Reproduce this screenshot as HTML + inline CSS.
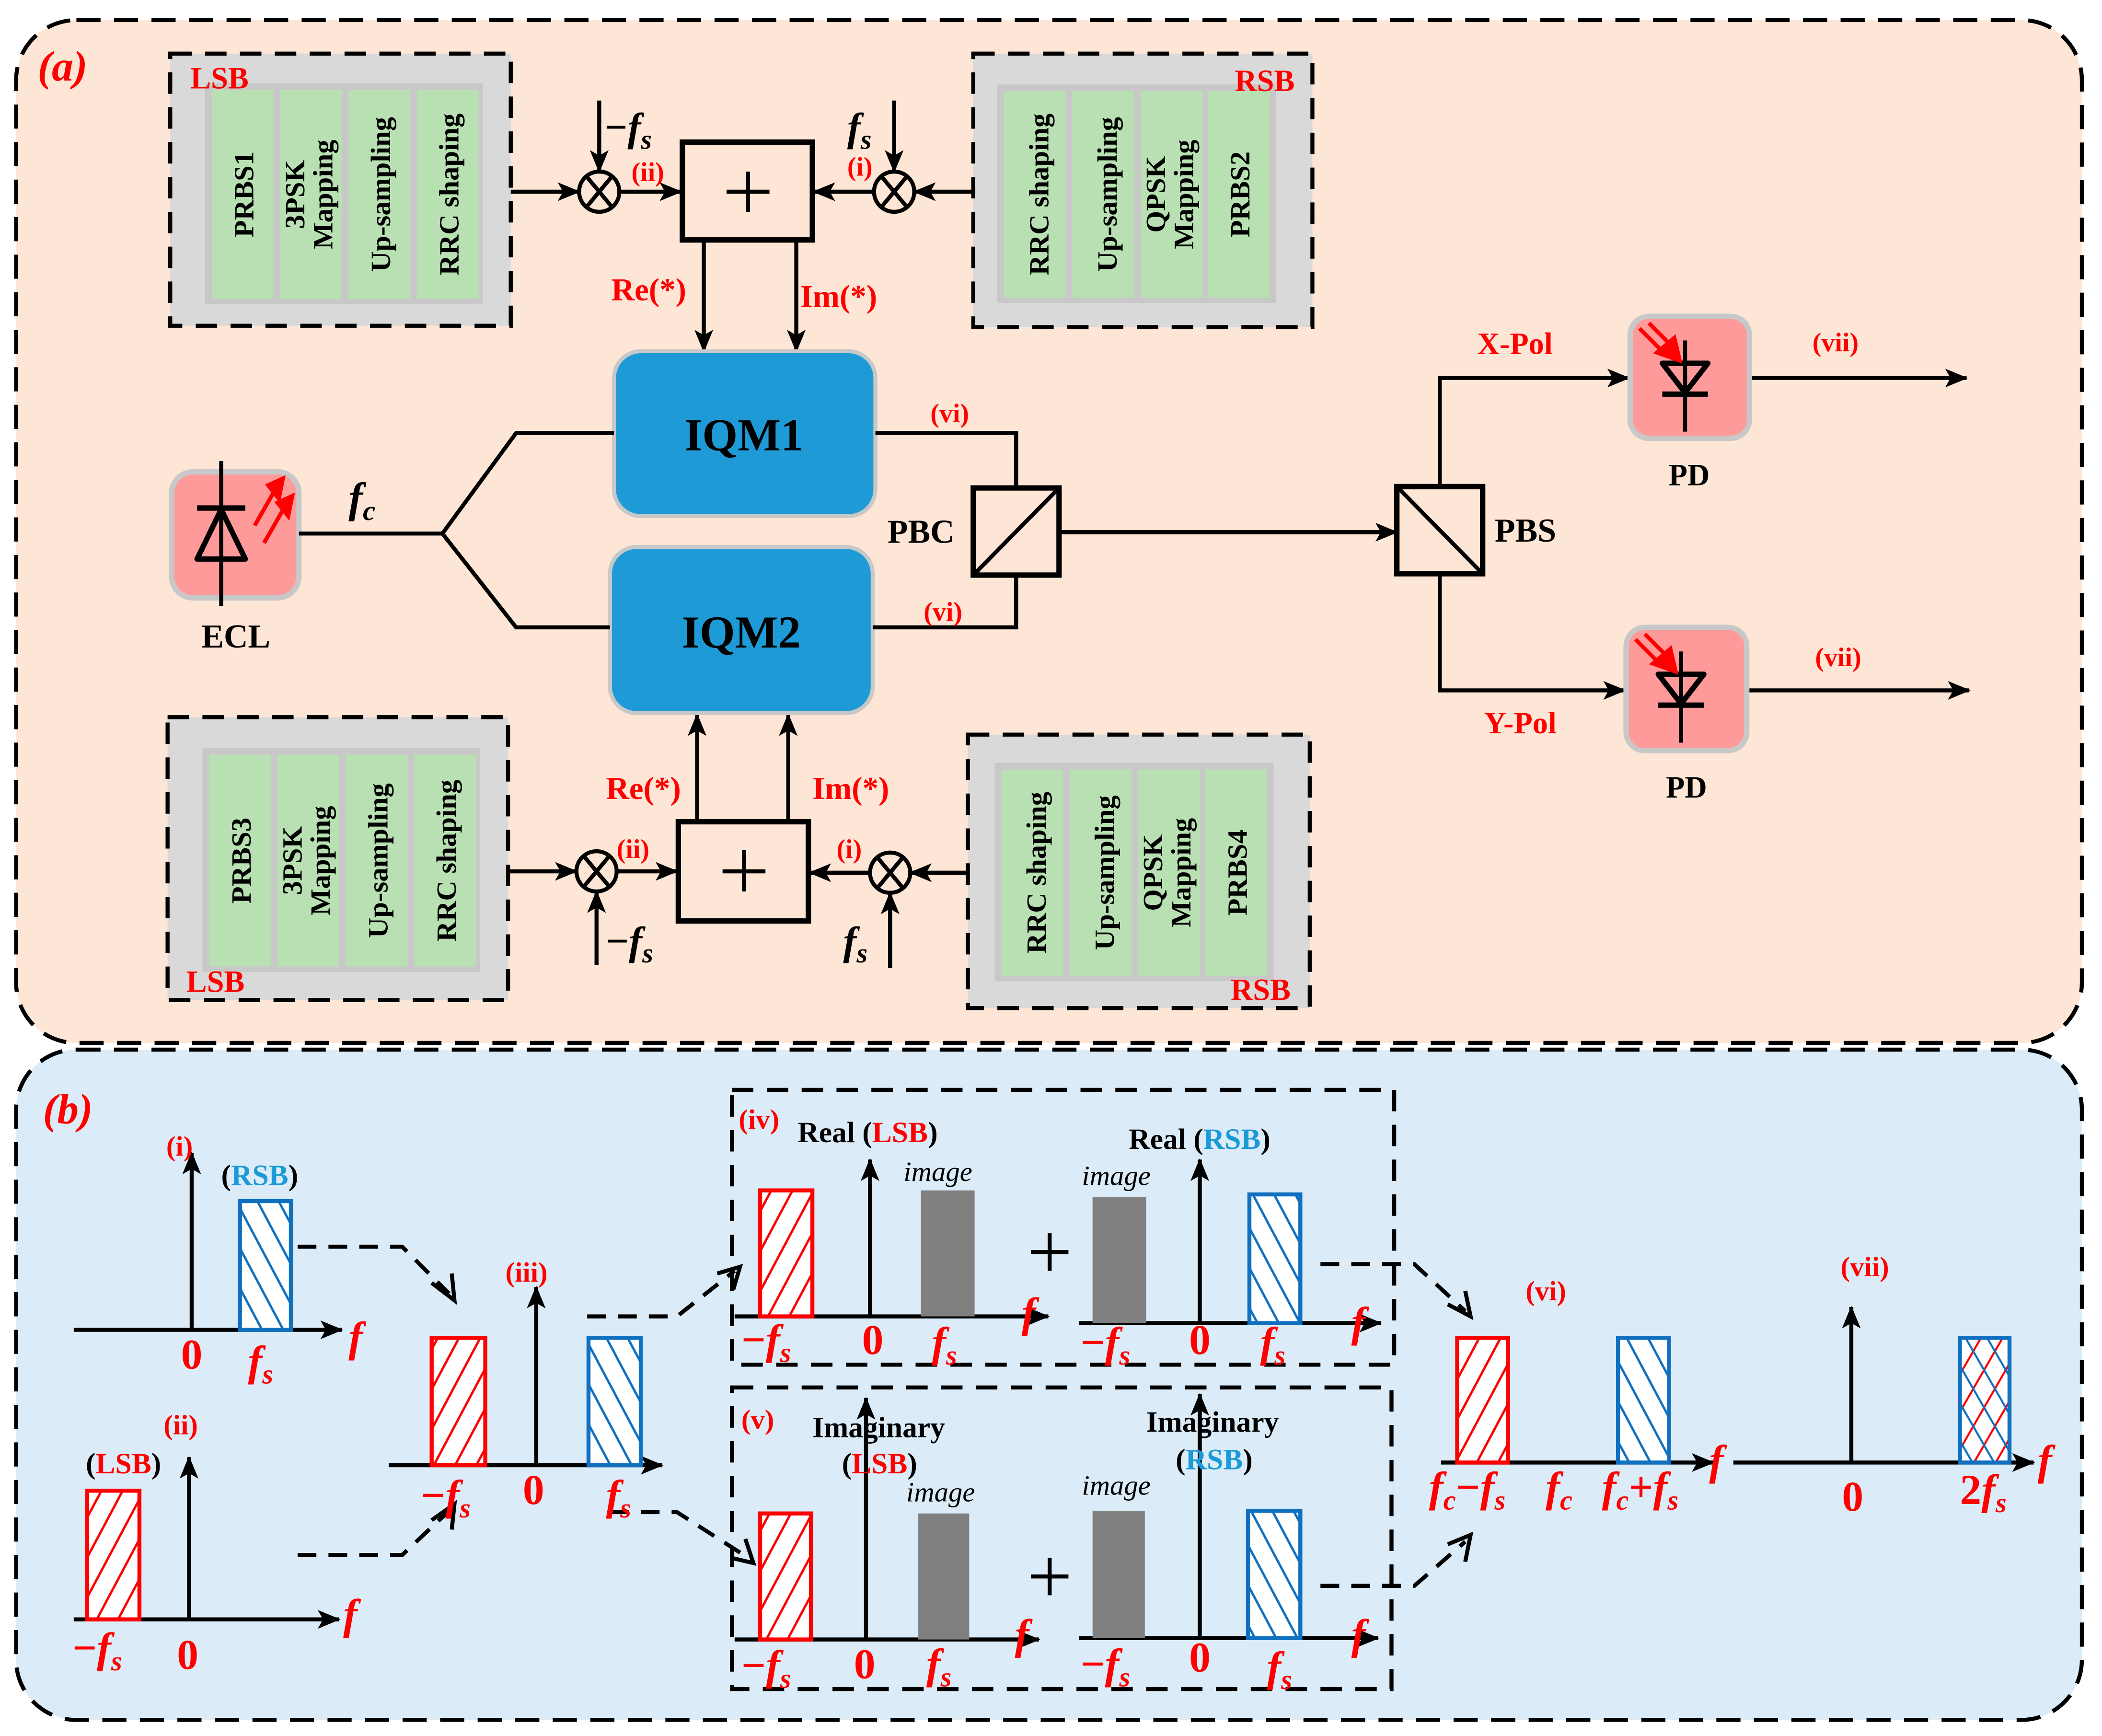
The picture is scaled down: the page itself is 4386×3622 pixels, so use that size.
<!DOCTYPE html>
<html><head><meta charset="utf-8"><style>
html,body{margin:0;padding:0;background:#fff;}
svg{display:block;}
svg text{font-family:"Liberation Serif","Times New Roman",serif;font-weight:bold;}
.r{fill:#ff0000;}
.b{fill:#1a9ad6;}
.it{font-style:italic;}
.col{font-size:21px;fill:#000;}
</style></head><body>
<svg width="4386" height="3622" viewBox="0 0 1568 1295" preserveAspectRatio="none" xmlns="http://www.w3.org/2000/svg" font-family="Liberation Serif, serif" font-weight="bold">
<defs>
<marker id="ah" markerUnits="userSpaceOnUse" markerWidth="18" markerHeight="14" refX="16" refY="7" orient="auto">
<path d="M0,0 L17,7 L0,14 L4,7 z" fill="#000"/></marker>
<pattern id="hr" patternUnits="userSpaceOnUse" width="14" height="14" patternTransform="rotate(28)">
<rect width="14" height="14" fill="#fff"/><line x1="0" y1="0" x2="0" y2="14" stroke="#ff0000" stroke-width="3.5"/></pattern>
<pattern id="hb" patternUnits="userSpaceOnUse" width="14" height="14" patternTransform="rotate(-28)">
<rect width="14" height="14" fill="#fff"/><line x1="0" y1="0" x2="0" y2="14" stroke="#1070c0" stroke-width="3.5"/></pattern>
<pattern id="hx" patternUnits="userSpaceOnUse" width="14" height="14" patternTransform="rotate(30)">
<rect width="14" height="14" fill="#fff"/><line x1="0" y1="0" x2="0" y2="14" stroke="#ff0000" stroke-width="3"/></pattern>
<pattern id="hx2" patternUnits="userSpaceOnUse" width="14" height="14" patternTransform="rotate(-30)">
<line x1="0" y1="0" x2="0" y2="14" stroke="#1070c0" stroke-width="3"/></pattern>
</defs>

<rect width="1568" height="1295" fill="#fff"/>
<rect x="12" y="15" width="1541" height="763" rx="45" fill="#fee6d6" stroke="#000" stroke-width="3" stroke-dasharray="18,10"/>
<rect x="12" y="783" width="1541" height="500" rx="45" fill="#dbebf7" stroke="#000" stroke-width="3" stroke-dasharray="18,10"/>
<text x="28" y="60" class="r it" font-size="32">(a)</text>
<text x="32" y="838" class="r it" font-size="32">(b)</text>

<g>
<rect x="127" y="40" width="254" height="203" fill="#d9d9d9" stroke="#000" stroke-width="3" stroke-dasharray="16,10"/>
<rect x="153" y="62" width="207" height="165" fill="#c8c8c8"/>
<rect x="158" y="67" width="46" height="156" fill="#b9e0b2"/><rect x="209" y="67" width="46" height="156" fill="#b9e0b2"/>
<rect x="260" y="67" width="46" height="156" fill="#b9e0b2"/><rect x="311" y="67" width="46" height="156" fill="#b9e0b2"/>
<text class="col" transform="translate(189,145) rotate(-90)" text-anchor="middle">PRBS1</text>
<text class="col" transform="translate(227,145) rotate(-90)" text-anchor="middle">3PSK</text>
<text class="col" transform="translate(248,145) rotate(-90)" text-anchor="middle">Mapping</text>
<text class="col" transform="translate(291,145) rotate(-90)" text-anchor="middle">Up-sampling</text>
<text class="col" transform="translate(342,145) rotate(-90)" text-anchor="middle">RRC shaping</text>
<text x="142" y="66" class="r" font-size="23">LSB</text>
</g>
<g>
<rect x="726" y="40" width="253" height="204" fill="#d9d9d9" stroke="#000" stroke-width="3" stroke-dasharray="16,10"/>
<rect x="744" y="63" width="208" height="163" fill="#c8c8c8"/>
<rect x="749" y="68" width="46" height="154" fill="#b9e0b2"/><rect x="800" y="68" width="46" height="154" fill="#b9e0b2"/>
<rect x="851" y="68" width="46" height="154" fill="#b9e0b2"/><rect x="901" y="68" width="46" height="154" fill="#b9e0b2"/>
<text class="col" transform="translate(782,145) rotate(-90)" text-anchor="middle">RRC shaping</text>
<text class="col" transform="translate(833,145) rotate(-90)" text-anchor="middle">Up-sampling</text>
<text class="col" transform="translate(869,145) rotate(-90)" text-anchor="middle">QPSK</text>
<text class="col" transform="translate(890,145) rotate(-90)" text-anchor="middle">Mapping</text>
<text class="col" transform="translate(932,145) rotate(-90)" text-anchor="middle">PRBS2</text>
<text x="921" y="68" class="r" font-size="23">RSB</text>
</g>
<g>
<rect x="125" y="535" width="254" height="211" fill="#d9d9d9" stroke="#000" stroke-width="3" stroke-dasharray="16,10"/>
<rect x="151" y="558" width="207" height="167" fill="#c8c8c8"/>
<rect x="156" y="563" width="46" height="158" fill="#b9e0b2"/><rect x="207" y="563" width="46" height="158" fill="#b9e0b2"/>
<rect x="258" y="563" width="46" height="158" fill="#b9e0b2"/><rect x="309" y="563" width="46" height="158" fill="#b9e0b2"/>
<text class="col" transform="translate(187,642) rotate(-90)" text-anchor="middle">PRBS3</text>
<text class="col" transform="translate(225,642) rotate(-90)" text-anchor="middle">3PSK</text>
<text class="col" transform="translate(246,642) rotate(-90)" text-anchor="middle">Mapping</text>
<text class="col" transform="translate(289,642) rotate(-90)" text-anchor="middle">Up-sampling</text>
<text class="col" transform="translate(340,642) rotate(-90)" text-anchor="middle">RRC shaping</text>
<text x="139" y="740" class="r" font-size="23">LSB</text>
</g>
<g>
<rect x="722" y="548" width="255" height="204" fill="#d9d9d9" stroke="#000" stroke-width="3" stroke-dasharray="16,10"/>
<rect x="742" y="569" width="208" height="163" fill="#c8c8c8"/>
<rect x="747" y="574" width="46" height="154" fill="#b9e0b2"/><rect x="798" y="574" width="46" height="154" fill="#b9e0b2"/>
<rect x="849" y="574" width="46" height="154" fill="#b9e0b2"/><rect x="899" y="574" width="46" height="154" fill="#b9e0b2"/>
<text class="col" transform="translate(780,651) rotate(-90)" text-anchor="middle">RRC shaping</text>
<text class="col" transform="translate(831,651) rotate(-90)" text-anchor="middle">Up-sampling</text>
<text class="col" transform="translate(867,651) rotate(-90)" text-anchor="middle">QPSK</text>
<text class="col" transform="translate(888,651) rotate(-90)" text-anchor="middle">Mapping</text>
<text class="col" transform="translate(930,651) rotate(-90)" text-anchor="middle">PRBS4</text>
<text x="918" y="746" class="r" font-size="23">RSB</text>
</g>

<g stroke="#000" stroke-width="3" fill="none">
<line x1="381" y1="143" x2="432" y2="143" marker-end="url(#ah)"/>
<line x1="462" y1="143" x2="508" y2="143" marker-end="url(#ah)"/>
<line x1="447" y1="75" x2="447" y2="128" marker-end="url(#ah)"/>
<circle cx="447" cy="143" r="15"/><line x1="437" y1="131" x2="457" y2="155"/><line x1="457" y1="131" x2="437" y2="155"/>
<line x1="726" y1="143" x2="682" y2="143" marker-end="url(#ah)"/>
<line x1="652" y1="143" x2="607" y2="143" marker-end="url(#ah)"/>
<line x1="667" y1="75" x2="667" y2="128" marker-end="url(#ah)"/>
<circle cx="667" cy="143" r="15"/><line x1="657" y1="131" x2="677" y2="155"/><line x1="677" y1="131" x2="657" y2="155"/>
<rect x="509" y="106" width="97" height="73" stroke-width="4"/>
<line x1="558" y1="128" x2="558" y2="158"/><line x1="542" y1="143" x2="574" y2="143"/>
<line x1="525" y1="180" x2="525" y2="262" marker-end="url(#ah)"/>
<line x1="594" y1="180" x2="594" y2="262" marker-end="url(#ah)"/>
</g>
<text x="451" y="105" font-size="30">−<tspan class="it">f</tspan><tspan font-size="21" dy="6" class="it">s</tspan></text>
<text x="632" y="105" font-size="30" class="it">f<tspan font-size="21" dy="6">s</tspan></text>
<text x="471" y="135" class="r" font-size="20">(ii)</text>
<text x="632" y="131" class="r" font-size="20">(i)</text>
<text x="456" y="224" class="r" font-size="24">Re(*)</text>
<text x="597" y="229" class="r" font-size="24">Im(*)</text>

<g stroke="#000" stroke-width="3" fill="none">
<line x1="379" y1="650" x2="430" y2="650" marker-end="url(#ah)"/>
<line x1="460" y1="650" x2="505" y2="650" marker-end="url(#ah)"/>
<line x1="445" y1="720" x2="445" y2="665" marker-end="url(#ah)"/>
<circle cx="445" cy="650" r="15"/><line x1="435" y1="638" x2="455" y2="662"/><line x1="455" y1="638" x2="435" y2="662"/>
<line x1="722" y1="651" x2="679" y2="651" marker-end="url(#ah)"/>
<line x1="649" y1="651" x2="604" y2="651" marker-end="url(#ah)"/>
<line x1="664" y1="722" x2="664" y2="666" marker-end="url(#ah)"/>
<circle cx="664" cy="651" r="15"/><line x1="654" y1="639" x2="674" y2="663"/><line x1="674" y1="639" x2="654" y2="663"/>
<rect x="506" y="613" width="97" height="74" stroke-width="4"/>
<line x1="555" y1="634" x2="555" y2="665"/><line x1="539" y1="650" x2="571" y2="650"/>
<line x1="520" y1="612" x2="520" y2="533" marker-end="url(#ah)"/>
<line x1="588" y1="612" x2="588" y2="533" marker-end="url(#ah)"/>
</g>
<text x="452" y="712" font-size="30">−<tspan class="it">f</tspan><tspan font-size="21" dy="6" class="it">s</tspan></text>
<text x="629" y="712" font-size="30" class="it">f<tspan font-size="21" dy="6">s</tspan></text>
<text x="460" y="640" class="r" font-size="20">(ii)</text>
<text x="624" y="640" class="r" font-size="20">(i)</text>
<text x="452" y="596" class="r" font-size="24">Re(*)</text>
<text x="606" y="596" class="r" font-size="24">Im(*)</text>

<rect x="458" y="262" width="195" height="123" rx="20" fill="#1e9ad6" stroke="#c8c8c8" stroke-width="3"/>
<text x="555" y="336" font-size="34" text-anchor="middle">IQM1</text>
<rect x="455" y="408" width="196" height="124" rx="20" fill="#1e9ad6" stroke="#c8c8c8" stroke-width="3"/>
<text x="553" y="483" font-size="34" text-anchor="middle">IQM2</text>

<rect x="128" y="352" width="95" height="94" rx="16" fill="#fe9a9a" stroke="#c8c8c8" stroke-width="4"/>
<g stroke="#000" stroke-width="4" fill="none" stroke-linejoin="round">
<line x1="165" y1="344" x2="165" y2="452" stroke-width="3"/>
<line x1="147" y1="379" x2="183" y2="379"/>
<path d="M165,380 L147,417 L183,417 Z"/>
</g>
<g stroke="#ff0000" stroke-width="3" fill="#ff0000">
<line x1="190" y1="392" x2="206" y2="364"/><path d="M200,362 L211,357 L208,372 Z"/>
<line x1="197" y1="405" x2="213" y2="377"/><path d="M207,375 L218,370 L215,385 Z"/>
</g>
<text x="176" y="483" font-size="25" text-anchor="middle">ECL</text>
<text x="260" y="382" font-size="32" class="it">f<tspan font-size="21" dy="6">c</tspan></text>

<g stroke="#000" stroke-width="3" fill="none">
<polyline points="223,398 330,398 385,323 458,323"/>
<polyline points="330,398 385,468 455,468"/>
<polyline points="653,323 758,323 758,363"/>
<polyline points="651,468 758,468 758,429"/>
<line x1="790" y1="397" x2="1042" y2="397" marker-end="url(#ah)"/>
<rect x="726" y="364" width="64" height="65" stroke-width="4"/>
<line x1="726" y1="429" x2="790" y2="364"/>
<rect x="1042" y="363" width="64" height="65" stroke-width="4"/>
<line x1="1042" y1="363" x2="1106" y2="428"/>
<polyline points="1074,363 1074,282 1215,282" marker-end="url(#ah)"/>
<polyline points="1074,428 1074,515 1212,515" marker-end="url(#ah)"/>
<line x1="1306" y1="282" x2="1467" y2="282" marker-end="url(#ah)"/>
<line x1="1304" y1="515" x2="1469" y2="515" marker-end="url(#ah)"/>
</g>
<text x="662" y="405" font-size="25">PBC</text>
<text x="1115" y="404" font-size="25">PBS</text>
<text x="694" y="315" class="r" font-size="20">(vi)</text>
<text x="689" y="463" class="r" font-size="20">(vi)</text>
<text x="1102" y="264" class="r" font-size="23">X-Pol</text>
<text x="1107" y="547" class="r" font-size="23">Y-Pol</text>
<text x="1352" y="262" class="r" font-size="20">(vii)</text>
<text x="1354" y="497" class="r" font-size="20">(vii)</text>

<g>
<rect x="1216" y="236" width="89" height="91" rx="14" fill="#fe9a9a" stroke="#c8c8c8" stroke-width="4"/>
<g stroke="#000" stroke-width="4" fill="none" stroke-linejoin="round">
<line x1="1257" y1="254" x2="1257" y2="322" stroke-width="3"/>
<path d="M1240,271 L1274,271 L1257,293 Z"/><line x1="1240" y1="294" x2="1274" y2="294"/>
</g>
<g stroke="#ff0000" stroke-width="3" fill="#ff0000"><line x1="1223" y1="245" x2="1243" y2="265"/><line x1="1230" y1="241" x2="1248" y2="259"/><path d="M1236,263 L1253,269 L1249,252 Z"/></g>
<text x="1260" y="362" font-size="23" text-anchor="middle">PD</text>
</g>
<g>
<rect x="1213" y="468" width="90" height="92" rx="14" fill="#fe9a9a" stroke="#c8c8c8" stroke-width="4"/>
<g stroke="#000" stroke-width="4" fill="none" stroke-linejoin="round">
<line x1="1254" y1="486" x2="1254" y2="554" stroke-width="3"/>
<path d="M1237,503 L1271,503 L1254,525 Z"/><line x1="1237" y1="526" x2="1271" y2="526"/>
</g>
<g stroke="#ff0000" stroke-width="3" fill="#ff0000"><line x1="1220" y1="477" x2="1240" y2="497"/><line x1="1227" y1="473" x2="1245" y2="491"/><path d="M1233,495 L1250,501 L1246,484 Z"/></g>
<text x="1258" y="595" font-size="23" text-anchor="middle">PD</text>
</g>

<g stroke="#000" stroke-width="3" fill="none">
<line x1="55" y1="992" x2="255" y2="992" marker-end="url(#ah)"/>
<line x1="143" y1="992" x2="143" y2="860" marker-end="url(#ah)"/>
<line x1="55" y1="1208" x2="253" y2="1208" marker-end="url(#ah)"/>
<line x1="141" y1="1208" x2="141" y2="1087" marker-end="url(#ah)"/>
<line x1="290" y1="1093" x2="494" y2="1093" marker-end="url(#ah)"/>
<line x1="400" y1="1093" x2="400" y2="960" marker-end="url(#ah)"/>
<g stroke-dasharray="14,9">
<polyline points="222,930 300,930 335,965"/>
<polyline points="222,1160 300,1160 335,1127"/>
<polyline points="438,982 505,982 548,948"/>
<polyline points="455,1128 505,1128 558,1162"/>
<polyline points="985,943 1055,943 1093,978"/>
<polyline points="985,1183 1055,1183 1093,1150"/>
</g>
<polyline points="322,957 339,970 337,950"/>
<polyline points="322,1134 339,1122 337,1141"/>
<polyline points="535,950 552,945 547,962"/>
<polyline points="545,1162 562,1166 556,1148"/>
<polyline points="1080,973 1097,982 1093,963"/>
<polyline points="1080,1152 1097,1145 1093,1165"/>
<rect x="546" y="813" width="494" height="205" stroke-dasharray="16,10"/>
<rect x="546" y="1035" width="492" height="225" stroke-dasharray="16,10"/>
<line x1="548" y1="982" x2="782" y2="982" marker-end="url(#ah)"/>
<line x1="649" y1="982" x2="649" y2="865" marker-end="url(#ah)"/>
<line x1="805" y1="987" x2="1030" y2="987" marker-end="url(#ah)"/>
<line x1="895" y1="987" x2="895" y2="865" marker-end="url(#ah)"/>
<line x1="548" y1="1223" x2="775" y2="1223" marker-end="url(#ah)"/>
<line x1="646" y1="1223" x2="646" y2="1043" marker-end="url(#ah)"/>
<line x1="805" y1="1222" x2="1028" y2="1222" marker-end="url(#ah)"/>
<line x1="895" y1="1222" x2="895" y2="1040" marker-end="url(#ah)"/>
<line x1="1075" y1="1091" x2="1278" y2="1091" marker-end="url(#ah)"/>
<line x1="1293" y1="1091" x2="1517" y2="1091" marker-end="url(#ah)"/>
<line x1="1381" y1="1091" x2="1381" y2="975" marker-end="url(#ah)"/>
<line x1="783" y1="920" x2="783" y2="948"/><line x1="769" y1="934" x2="797" y2="934"/>
<line x1="783" y1="1162" x2="783" y2="1190"/><line x1="769" y1="1176" x2="797" y2="1176"/>
</g>
<rect x="179" y="896" width="38" height="96" fill="url(#hb)" stroke="#1070c0" stroke-width="3"/>
<rect x="65" y="1112" width="39" height="96" fill="url(#hr)" stroke="#ff0000" stroke-width="3"/>
<rect x="322" y="998" width="40" height="95" fill="url(#hr)" stroke="#ff0000" stroke-width="3"/>
<rect x="439" y="998" width="39" height="95" fill="url(#hb)" stroke="#1070c0" stroke-width="3"/>
<rect x="567" y="888" width="39" height="94" fill="url(#hr)" stroke="#ff0000" stroke-width="3"/>
<rect x="687" y="888" width="40" height="94" fill="#808080"/>
<rect x="815" y="893" width="40" height="94" fill="#808080"/>
<rect x="932" y="891" width="38" height="96" fill="url(#hb)" stroke="#1070c0" stroke-width="3"/>
<rect x="567" y="1129" width="38" height="94" fill="url(#hr)" stroke="#ff0000" stroke-width="3"/>
<rect x="685" y="1129" width="38" height="94" fill="#808080"/>
<rect x="815" y="1127" width="39" height="95" fill="#808080"/>
<rect x="931" y="1127" width="39" height="95" fill="url(#hb)" stroke="#1070c0" stroke-width="3"/>
<rect x="1087" y="998" width="38" height="93" fill="url(#hr)" stroke="#ff0000" stroke-width="3"/>
<rect x="1207" y="998" width="38" height="93" fill="url(#hb)" stroke="#1070c0" stroke-width="3"/>
<rect x="1462" y="998" width="37" height="93" fill="url(#hx)" stroke="#1070c0" stroke-width="3"/>
<rect x="1462" y="998" width="37" height="93" fill="url(#hx2)"/>

<g font-size="21">
<text x="124" y="862" class="r" font-size="21">(i)</text>
<text x="122" y="1070" class="r" font-size="21">(ii)</text>
<text x="377" y="956" class="r" font-size="21">(iii)</text>
<text x="551" y="842" class="r" font-size="21">(iv)</text>
<text x="553" y="1066" class="r" font-size="21">(v)</text>
<text x="1138" y="970" class="r" font-size="21">(vi)</text>
<text x="1373" y="952" class="r" font-size="21">(vii)</text>
</g>
<text x="165" y="884" font-size="22">(<tspan class="b">RSB</tspan>)</text>
<text x="64" y="1099" font-size="22">(<tspan class="r">LSB</tspan>)</text>
<text x="595" y="852" font-size="22">Real (<tspan class="r">LSB</tspan>)</text>
<text x="842" y="857" font-size="22">Real (<tspan class="b">RSB</tspan>)</text>
<text x="606" y="1072" font-size="22">Imaginary</text>
<text x="628" y="1099" font-size="22">(<tspan class="r">LSB</tspan>)</text>
<text x="855" y="1068" font-size="22">Imaginary</text>
<text x="877" y="1096" font-size="22">(<tspan class="b">RSB</tspan>)</text>
<text x="674" y="881" font-size="21" font-style="italic" font-weight="normal" style="font-weight:normal">image</text>
<text x="807" y="884" font-size="21" font-style="italic" font-weight="normal" style="font-weight:normal">image</text>
<text x="676" y="1120" font-size="21" font-style="italic" font-weight="normal" style="font-weight:normal">image</text>
<text x="807" y="1115" font-size="21" font-style="italic" font-weight="normal" style="font-weight:normal">image</text>
<g class="r" font-size="32">
<text x="143" y="1021" text-anchor="middle">0</text>
<text x="185" y="1026" class="it">f<tspan font-size="21" dy="6">s</tspan></text>
<text x="260" y="1008" class="it">f</text>
<text x="54" y="1240">−<tspan class="it">f</tspan><tspan font-size="21" dy="6" class="it">s</tspan></text>
<text x="140" y="1245" text-anchor="middle">0</text>
<text x="256" y="1215" class="it">f</text>
<text x="314" y="1126">−<tspan class="it">f</tspan><tspan font-size="21" dy="6" class="it">s</tspan></text>
<text x="398" y="1122" text-anchor="middle">0</text>
<text x="452" y="1126" class="it">f<tspan font-size="21" dy="6">s</tspan></text>
<text x="553" y="1010">−<tspan class="it">f</tspan><tspan font-size="21" dy="6" class="it">s</tspan></text>
<text x="651" y="1010" text-anchor="middle">0</text>
<text x="695" y="1012" class="it">f<tspan font-size="21" dy="6">s</tspan></text>
<text x="762" y="990" class="it">f</text>
<text x="806" y="1012">−<tspan class="it">f</tspan><tspan font-size="21" dy="6" class="it">s</tspan></text>
<text x="895" y="1010" text-anchor="middle">0</text>
<text x="940" y="1012" class="it">f<tspan font-size="21" dy="6">s</tspan></text>
<text x="1008" y="997" class="it">f</text>
<text x="553" y="1253">−<tspan class="it">f</tspan><tspan font-size="21" dy="6" class="it">s</tspan></text>
<text x="645" y="1252" text-anchor="middle">0</text>
<text x="691" y="1252" class="it">f<tspan font-size="21" dy="6">s</tspan></text>
<text x="757" y="1230" class="it">f</text>
<text x="806" y="1252">−<tspan class="it">f</tspan><tspan font-size="21" dy="6" class="it">s</tspan></text>
<text x="895" y="1247" text-anchor="middle">0</text>
<text x="945" y="1254" class="it">f<tspan font-size="21" dy="6">s</tspan></text>
<text x="1008" y="1230" class="it">f</text>
<text x="1066" y="1120" class="it">f<tspan font-size="21" dy="6">c</tspan><tspan dy="-6" font-style="normal">−</tspan>f<tspan font-size="21" dy="6">s</tspan></text>
<text x="1153" y="1120" class="it">f<tspan font-size="21" dy="6">c</tspan></text>
<text x="1195" y="1120" class="it">f<tspan font-size="21" dy="6">c</tspan><tspan dy="-6" font-style="normal">+</tspan>f<tspan font-size="21" dy="6">s</tspan></text>
<text x="1275" y="1100" class="it">f</text>
<text x="1382" y="1127" text-anchor="middle">0</text>
<text x="1462" y="1122">2<tspan class="it">f</tspan><tspan font-size="21" dy="6" class="it">s</tspan></text>
<text x="1520" y="1100" class="it">f</text>
</g>
</svg>
</body></html>
